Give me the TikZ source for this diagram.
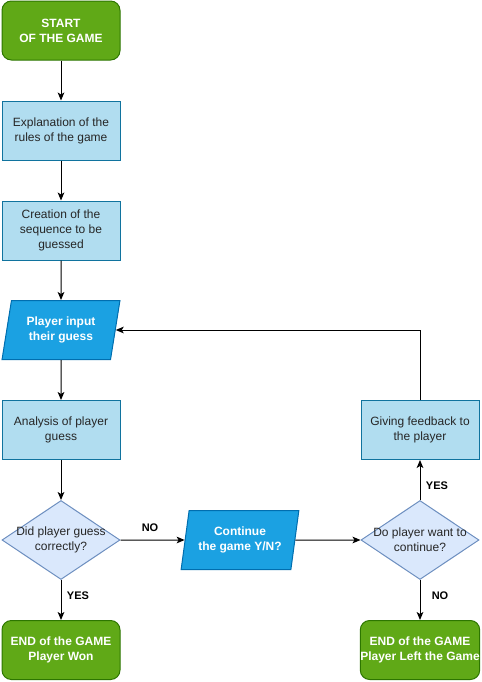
\documentclass[tikz,border=0pt]{standalone}
\usepackage{fontspec}
\setmainfont{Liberation Sans}
\usetikzlibrary{shapes.geometric,arrows.meta}
\definecolor{gfill}{HTML}{60A917}
\definecolor{gline}{HTML}{2D7600}
\definecolor{bfill}{HTML}{B1DDF0}
\definecolor{bline}{HTML}{10739E}
\definecolor{iofill}{HTML}{1BA1E2}
\definecolor{ioline}{HTML}{006EAF}
\definecolor{dfill}{HTML}{DAE8FC}
\definecolor{dline}{HTML}{6C8EBF}
\begin{document}
\begin{tikzpicture}[x=0.75pt,y=-0.75pt,
  every node/.style={font=\fontsize{9}{11.25}\selectfont, align=center, inner sep=0pt, text=black!85},
  term/.style={rectangle, rounded corners=7pt, draw=gline, fill=gfill, text=white,
    font=\fontsize{9}{11.25}\selectfont\bfseries, minimum width=88.5pt, minimum height=44.25pt, line width=0.75pt},
  proc/.style={rectangle, draw=bline, fill=bfill, minimum width=88.5pt, minimum height=44.25pt, line width=0.75pt},
  io/.style={trapezium, trapezium left angle=76, trapezium right angle=104, trapezium stretches=true,
    draw=ioline, fill=iofill, text=white, font=\fontsize{9}{11.25}\selectfont\bfseries,
    minimum width=88.5pt, minimum height=44.25pt, line width=0.75pt},
  dec/.style={diamond, draw=dline, fill=dfill, minimum width=88.5pt, minimum height=59.25pt, line width=0.75pt},
  arr/.style={draw=black, line width=0.75pt, -{Stealth[length=6pt,width=5pt,inset=1.5pt]}},
  elab/.style={font=\fontsize{8.25}{9.5}\selectfont\bfseries, text=black, fill=white, inner sep=1pt}]
\useasboundingbox (0,0) rectangle (482,682);
\node[term] (start) at (61,30.5) {START\\OF THE GAME};
\node[proc] (rules) at (61,130.5) {Explanation of the\\rules of the game};
\node[proc] (seq) at (61,230.5) {Creation of the\\sequence to be\\guessed};
\node[io] (input) at (61,330) {Player input\\their guess};
\node[proc] (anal) at (61,430) {Analysis of player\\guess};
\node[dec, label={[text=black!85]center:Did player guess\\correctly?}] (dec1) at (61,540) {};
\node[term] (won) at (61,650) {END of the GAME\\Player Won};
\node[io] (cont) at (240,540) {Continue\\the game Y/N?};
\node[dec, label={[text=black!85]center:Do player want to\\continue?}] (dec2) at (420,540) {};
\node[proc] (fb) at (420,430) {Giving feedback to\\the player};
\node[term] (left) at (420,650) {END of the GAME\\Player Left the Game};

\draw[arr] (start) -- (rules);
\draw[arr] (rules) -- (seq);
\draw[arr] (seq) -- (input);
\draw[arr] (input) -- (anal);
\draw[arr] (anal) -- (dec1);
\draw[arr] (dec1) -- (won);
\draw[arr] (dec1) -- (cont);
\draw[arr] (cont) -- (dec2);
\draw[arr] (dec2) -- (fb);
\draw[arr] (dec2) -- (left);
\draw[arr] (fb.north) |- (input.east);

\node[elab] (lno1) at (150,528) {NO};
\node[elab] (lyes1) at (78,596) {YES};
\node[elab] (lyes2) at (437,486) {YES};
\node[elab] (lno2) at (440,596) {NO};
\end{tikzpicture}
\end{document}
